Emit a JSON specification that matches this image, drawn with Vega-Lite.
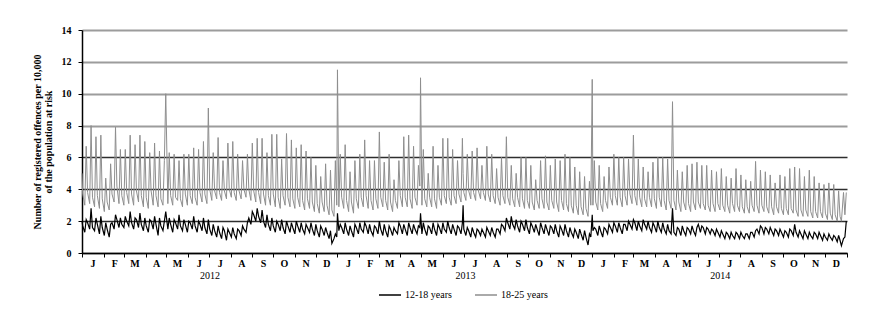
{
"$schema": "https://vega.github.io/schema/vega-lite/v6.json",
"width": 765, "height": 223,
"autosize": "none",
"padding": {"left": 82, "top": 30, "right": 24, "bottom": 68},
"background": "white",
"config": {"view": {"stroke": null}, "font": "Liberation Serif",
  "axisY": {"values": [0, 2, 4, 6, 8, 10, 12, 14], "tickCount": 8, "labelOverlap": false,
            "titleFont": "Liberation Serif", "titleFontWeight": "bold", "titleFontSize": 10, "titleColor": "#000", "titlePadding": 8, "titleLineHeight": 11,
            "labelFont": "Liberation Serif", "labelFontWeight": "bold", "labelFontSize": 10, "labelColor": "#000", "labelPadding": 7,
            "tickSize": 4, "tickColor": "#000", "domainColor": "#000", "domainWidth": 1.5, "grid": true,
            "gridColor": {"condition": {"test": "datum.value <= 6", "value": "#2e2e2e"}, "value": "#9c9c9c"},
            "gridWidth": {"condition": {"test": "datum.value <= 6", "value": 1.3}, "value": 2},
            "zindex": 1}
},
"data": {"format": {"parse": {"d": "date"}}, "values": [
{"d":"2012-01-01","a":2.0,"b":5.0},
{"d":"2012-01-02","a":1.7,"b":3.7},{"d":"2012-01-05","a":1.3,"b":3.0},{"d":"2012-01-07","a":2.1,"b":6.7},
{"d":"2012-01-09","a":1.9,"b":3.8},{"d":"2012-01-12","a":1.5,"b":3.1},{"d":"2012-01-14","a":2.8,"b":8.0},
{"d":"2012-01-16","a":1.6,"b":3.5},{"d":"2012-01-19","a":1.4,"b":2.9},{"d":"2012-01-21","a":2.2,"b":7.3},
{"d":"2012-01-23","a":1.8,"b":3.6},{"d":"2012-01-26","a":1.2,"b":2.8},{"d":"2012-01-28","a":2.3,"b":7.4},
{"d":"2012-01-30","a":1.6,"b":3.4},{"d":"2012-02-02","a":1.1,"b":2.6},{"d":"2012-02-04","a":1.9,"b":4.7},
{"d":"2012-02-06","a":1.5,"b":3.2},{"d":"2012-02-09","a":1.0,"b":2.7},{"d":"2012-02-11","a":1.8,"b":5.6},
{"d":"2012-02-13","a":1.9,"b":3.7},{"d":"2012-02-16","a":1.5,"b":3.2},{"d":"2012-02-18","a":2.4,"b":7.9},
{"d":"2012-02-20","a":2.1,"b":4.2},{"d":"2012-02-23","a":1.6,"b":3.1},{"d":"2012-02-25","a":2.2,"b":6.5},
{"d":"2012-02-27","a":1.8,"b":3.6},{"d":"2012-03-01","a":1.6,"b":3.0},{"d":"2012-03-03","a":2.3,"b":6.5},
{"d":"2012-03-05","a":2.0,"b":3.8},{"d":"2012-03-08","a":1.7,"b":3.1},{"d":"2012-03-10","a":2.6,"b":7.4},
{"d":"2012-03-12","a":1.9,"b":3.7},{"d":"2012-03-15","a":1.5,"b":3.0},{"d":"2012-03-17","a":2.2,"b":6.8},
{"d":"2012-03-19","a":2.1,"b":3.9},{"d":"2012-03-22","a":1.6,"b":3.2},{"d":"2012-03-24","a":2.5,"b":7.4},
{"d":"2012-03-26","a":1.8,"b":3.6},{"d":"2012-03-29","a":1.4,"b":2.9},{"d":"2012-03-31","a":2.2,"b":7.0},
{"d":"2012-04-02","a":1.7,"b":3.5},{"d":"2012-04-05","a":1.3,"b":2.8},{"d":"2012-04-07","a":2.1,"b":6.3},
{"d":"2012-04-09","a":2.0,"b":3.9},{"d":"2012-04-12","a":1.5,"b":3.0},{"d":"2012-04-14","a":2.3,"b":6.9},
{"d":"2012-04-16","a":1.8,"b":3.6},{"d":"2012-04-19","a":1.1,"b":2.9},{"d":"2012-04-21","a":2.2,"b":6.4},
{"d":"2012-04-23","a":1.7,"b":3.4},{"d":"2012-04-26","a":1.4,"b":3.0},{"d":"2012-04-28","a":2.0,"b":5.8},
{"d":"2012-04-30","a":2.6,"b":10.0},{"d":"2012-05-03","a":1.5,"b":3.1},{"d":"2012-05-05","a":2.2,"b":6.3},
{"d":"2012-05-07","a":1.8,"b":3.6},{"d":"2012-05-10","a":1.3,"b":3.0},{"d":"2012-05-12","a":2.1,"b":6.2},
{"d":"2012-05-14","a":1.9,"b":3.5},{"d":"2012-05-17","a":1.5,"b":3.3},{"d":"2012-05-19","a":2.4,"b":5.8},
{"d":"2012-05-21","a":1.7,"b":3.4},{"d":"2012-05-24","a":1.4,"b":2.9},{"d":"2012-05-26","a":2.1,"b":6.2},
{"d":"2012-05-28","a":1.8,"b":3.7},{"d":"2012-05-31","a":1.3,"b":3.0},{"d":"2012-06-02","a":2.0,"b":6.2},
{"d":"2012-06-04","a":1.9,"b":3.6},{"d":"2012-06-07","a":1.5,"b":3.1},{"d":"2012-06-09","a":2.3,"b":6.6},
{"d":"2012-06-11","a":1.7,"b":3.5},{"d":"2012-06-14","a":1.3,"b":3.0},{"d":"2012-06-16","a":2.0,"b":6.5},
{"d":"2012-06-18","a":1.8,"b":3.8},{"d":"2012-06-21","a":1.4,"b":3.2},{"d":"2012-06-23","a":2.2,"b":7.0},
{"d":"2012-06-25","a":1.6,"b":3.7},{"d":"2012-06-28","a":1.2,"b":3.1},{"d":"2012-06-30","a":2.1,"b":9.1},
{"d":"2012-07-02","a":1.5,"b":4.0},{"d":"2012-07-05","a":1.1,"b":3.3},{"d":"2012-07-07","a":1.8,"b":6.3},
{"d":"2012-07-09","a":1.4,"b":3.9},{"d":"2012-07-12","a":1.0,"b":3.4},{"d":"2012-07-14","a":1.7,"b":7.25},
{"d":"2012-07-16","a":1.3,"b":3.8},{"d":"2012-07-19","a":0.9,"b":3.3},{"d":"2012-07-21","a":1.6,"b":5.8},
{"d":"2012-07-23","a":1.4,"b":3.9},{"d":"2012-07-26","a":0.8,"b":3.4},{"d":"2012-07-28","a":1.5,"b":6.9},
{"d":"2012-07-30","a":1.3,"b":4.0},{"d":"2012-08-02","a":1.0,"b":3.5},{"d":"2012-08-04","a":1.6,"b":7.0},
{"d":"2012-08-06","a":1.2,"b":3.8},{"d":"2012-08-09","a":0.9,"b":3.3},{"d":"2012-08-11","a":1.5,"b":6.2},
{"d":"2012-08-13","a":1.4,"b":3.9},{"d":"2012-08-16","a":1.1,"b":3.4},{"d":"2012-08-18","a":1.7,"b":5.8},
{"d":"2012-08-20","a":1.5,"b":4.0},{"d":"2012-08-23","a":1.3,"b":3.5},{"d":"2012-08-25","a":1.9,"b":6.2},
{"d":"2012-08-27","a":2.2,"b":4.0},{"d":"2012-08-30","a":1.8,"b":3.3},{"d":"2012-09-01","a":2.6,"b":6.9},
{"d":"2012-09-03","a":2.4,"b":3.9},{"d":"2012-09-06","a":2.0,"b":3.2},{"d":"2012-09-08","a":2.8,"b":7.2},
{"d":"2012-09-10","a":2.3,"b":3.8},{"d":"2012-09-13","a":1.9,"b":3.1},{"d":"2012-09-15","a":2.7,"b":7.2},
{"d":"2012-09-17","a":2.0,"b":3.7},{"d":"2012-09-20","a":1.6,"b":3.0},{"d":"2012-09-22","a":2.4,"b":6.3},
{"d":"2012-09-24","a":1.8,"b":3.6},{"d":"2012-09-27","a":1.4,"b":3.0},{"d":"2012-09-29","a":2.2,"b":7.45},
{"d":"2012-10-01","a":1.7,"b":3.7},{"d":"2012-10-04","a":1.3,"b":2.9},{"d":"2012-10-06","a":2.0,"b":7.45},
{"d":"2012-10-08","a":1.8,"b":3.5},{"d":"2012-10-11","a":1.4,"b":2.8},{"d":"2012-10-13","a":2.1,"b":5.9},
{"d":"2012-10-15","a":1.6,"b":3.6},{"d":"2012-10-18","a":1.2,"b":3.0},{"d":"2012-10-20","a":2.0,"b":7.5},
{"d":"2012-10-22","a":1.7,"b":3.5},{"d":"2012-10-25","a":1.3,"b":2.9},{"d":"2012-10-27","a":1.9,"b":7.1},
{"d":"2012-10-29","a":1.6,"b":3.4},{"d":"2012-11-01","a":1.2,"b":2.8},{"d":"2012-11-03","a":2.0,"b":6.6},
{"d":"2012-11-05","a":1.7,"b":3.5},{"d":"2012-11-08","a":1.3,"b":2.9},{"d":"2012-11-10","a":1.9,"b":6.8},
{"d":"2012-11-12","a":1.5,"b":3.3},{"d":"2012-11-15","a":1.2,"b":2.7},{"d":"2012-11-17","a":1.8,"b":6.4},
{"d":"2012-11-19","a":1.6,"b":3.4},{"d":"2012-11-22","a":1.3,"b":2.8},{"d":"2012-11-24","a":1.9,"b":6.0},
{"d":"2012-11-26","a":1.5,"b":3.2},{"d":"2012-11-29","a":1.1,"b":2.6},{"d":"2012-12-01","a":1.8,"b":5.5},
{"d":"2012-12-03","a":1.4,"b":3.1},{"d":"2012-12-06","a":1.0,"b":2.5},{"d":"2012-12-08","a":1.7,"b":4.8},
{"d":"2012-12-10","a":1.5,"b":3.2},{"d":"2012-12-13","a":1.1,"b":2.6},{"d":"2012-12-15","a":1.6,"b":5.6},
{"d":"2012-12-17","a":1.3,"b":3.0},{"d":"2012-12-20","a":0.9,"b":2.4},{"d":"2012-12-22","a":1.4,"b":5.2},
{"d":"2012-12-24","a":0.6,"b":2.7},{"d":"2012-12-27","a":0.9,"b":2.3},{"d":"2012-12-29","a":1.2,"b":5.8},
{"d":"2012-12-31","a":1.0,"b":3.0},{"d":"2013-01-01","a":2.5,"b":11.5},{"d":"2013-01-03","a":1.4,"b":2.9},{"d":"2013-01-05","a":1.8,"b":6.2},
{"d":"2013-01-07","a":1.6,"b":3.5},{"d":"2013-01-10","a":1.2,"b":2.8},{"d":"2013-01-12","a":1.9,"b":6.8},
{"d":"2013-01-14","a":1.5,"b":3.3},{"d":"2013-01-17","a":1.1,"b":2.6},{"d":"2013-01-19","a":1.7,"b":5.1},
{"d":"2013-01-21","a":1.4,"b":3.2},{"d":"2013-01-24","a":1.0,"b":2.5},{"d":"2013-01-26","a":1.8,"b":5.8},
{"d":"2013-01-28","a":1.6,"b":3.4},{"d":"2013-01-31","a":1.2,"b":2.8},{"d":"2013-02-02","a":1.9,"b":6.2},
{"d":"2013-02-04","a":1.5,"b":3.5},{"d":"2013-02-07","a":1.3,"b":2.9},{"d":"2013-02-09","a":1.9,"b":7.1},
{"d":"2013-02-11","a":1.7,"b":3.6},{"d":"2013-02-14","a":1.2,"b":2.8},{"d":"2013-02-16","a":1.8,"b":5.8},
{"d":"2013-02-18","a":1.4,"b":3.3},{"d":"2013-02-21","a":1.1,"b":2.7},{"d":"2013-02-23","a":1.7,"b":5.8},
{"d":"2013-02-25","a":1.6,"b":3.4},{"d":"2013-02-28","a":1.2,"b":2.8},{"d":"2013-03-02","a":2.0,"b":7.6},
{"d":"2013-03-04","a":1.5,"b":3.5},{"d":"2013-03-07","a":1.1,"b":2.9},{"d":"2013-03-09","a":1.8,"b":5.7},
{"d":"2013-03-11","a":1.4,"b":3.3},{"d":"2013-03-14","a":1.0,"b":2.7},{"d":"2013-03-16","a":1.7,"b":6.2},
{"d":"2013-03-18","a":1.5,"b":3.2},{"d":"2013-03-21","a":1.1,"b":2.6},{"d":"2013-03-23","a":1.6,"b":4.6},
{"d":"2013-03-25","a":1.4,"b":3.3},{"d":"2013-03-28","a":1.2,"b":2.8},{"d":"2013-03-30","a":1.9,"b":5.8},
{"d":"2013-04-01","a":1.7,"b":3.6},{"d":"2013-04-04","a":1.2,"b":2.9},{"d":"2013-04-06","a":1.8,"b":7.3},
{"d":"2013-04-08","a":1.5,"b":3.5},{"d":"2013-04-11","a":1.1,"b":2.9},{"d":"2013-04-13","a":1.9,"b":7.4},
{"d":"2013-04-15","a":1.6,"b":3.4},{"d":"2013-04-18","a":1.2,"b":2.8},{"d":"2013-04-20","a":1.8,"b":6.7},
{"d":"2013-04-22","a":1.5,"b":3.5},{"d":"2013-04-25","a":1.2,"b":3.0},{"d":"2013-04-27","a":1.7,"b":5.5},
{"d":"2013-04-29","a":1.6,"b":4.2},{"d":"2013-04-30","a":2.5,"b":11.0},{"d":"2013-05-02","a":1.2,"b":3.0},{"d":"2013-05-04","a":1.9,"b":6.5},
{"d":"2013-05-06","a":1.5,"b":3.4},{"d":"2013-05-09","a":1.1,"b":2.9},{"d":"2013-05-11","a":1.7,"b":5.0},
{"d":"2013-05-13","a":1.6,"b":3.5},{"d":"2013-05-16","a":1.2,"b":2.9},{"d":"2013-05-18","a":1.9,"b":6.7},
{"d":"2013-05-20","a":1.5,"b":3.4},{"d":"2013-05-23","a":1.1,"b":2.8},{"d":"2013-05-25","a":1.8,"b":5.5},
{"d":"2013-05-27","a":1.6,"b":3.5},{"d":"2013-05-30","a":1.2,"b":3.0},{"d":"2013-06-01","a":1.9,"b":7.2},
{"d":"2013-06-03","a":1.5,"b":3.6},{"d":"2013-06-06","a":1.3,"b":3.1},{"d":"2013-06-08","a":2.0,"b":7.2},
{"d":"2013-06-10","a":1.6,"b":3.5},{"d":"2013-06-13","a":1.2,"b":3.0},{"d":"2013-06-15","a":1.8,"b":6.5},
{"d":"2013-06-17","a":1.5,"b":3.6},{"d":"2013-06-20","a":1.1,"b":3.1},{"d":"2013-06-22","a":1.7,"b":5.8},
{"d":"2013-06-24","a":1.6,"b":3.7},{"d":"2013-06-27","a":1.2,"b":3.2},{"d":"2013-06-29","a":1.9,"b":7.2},{"d":"2013-06-30","a":3.0,"b":5.0},
{"d":"2013-07-01","a":1.5,"b":3.8},{"d":"2013-07-04","a":1.1,"b":3.3},{"d":"2013-07-06","a":1.6,"b":6.2},
{"d":"2013-07-08","a":1.4,"b":3.9},{"d":"2013-07-11","a":1.0,"b":3.4},{"d":"2013-07-13","a":1.6,"b":6.4},
{"d":"2013-07-15","a":1.3,"b":3.8},{"d":"2013-07-18","a":1.0,"b":3.3},{"d":"2013-07-20","a":1.5,"b":6.6},
{"d":"2013-07-22","a":1.4,"b":3.9},{"d":"2013-07-25","a":1.1,"b":3.4},{"d":"2013-07-27","a":1.5,"b":5.5},
{"d":"2013-07-29","a":1.3,"b":3.8},{"d":"2013-08-01","a":1.0,"b":3.3},{"d":"2013-08-03","a":1.6,"b":6.7},
{"d":"2013-08-05","a":1.4,"b":3.7},{"d":"2013-08-08","a":1.1,"b":3.2},{"d":"2013-08-10","a":1.6,"b":6.2},
{"d":"2013-08-12","a":1.3,"b":3.6},{"d":"2013-08-15","a":1.0,"b":3.1},{"d":"2013-08-17","a":1.5,"b":5.3},
{"d":"2013-08-19","a":1.5,"b":3.5},{"d":"2013-08-22","a":1.2,"b":3.0},{"d":"2013-08-24","a":1.8,"b":6.0},
{"d":"2013-08-26","a":1.7,"b":3.6},{"d":"2013-08-29","a":1.4,"b":3.1},{"d":"2013-08-31","a":2.2,"b":7.3},
{"d":"2013-09-02","a":1.9,"b":3.5},{"d":"2013-09-05","a":1.5,"b":3.0},{"d":"2013-09-07","a":2.3,"b":5.5},
{"d":"2013-09-09","a":1.8,"b":3.4},{"d":"2013-09-12","a":1.5,"b":2.9},{"d":"2013-09-14","a":2.1,"b":5.0},
{"d":"2013-09-16","a":1.7,"b":3.5},{"d":"2013-09-19","a":1.3,"b":2.9},{"d":"2013-09-21","a":2.0,"b":6.0},
{"d":"2013-09-23","a":1.8,"b":3.4},{"d":"2013-09-26","a":1.4,"b":2.8},{"d":"2013-09-28","a":2.1,"b":6.0},
{"d":"2013-09-30","a":1.6,"b":3.3},{"d":"2013-10-03","a":1.2,"b":2.8},{"d":"2013-10-05","a":1.9,"b":5.5},
{"d":"2013-10-07","a":1.7,"b":3.2},{"d":"2013-10-10","a":1.3,"b":2.7},{"d":"2013-10-12","a":1.8,"b":4.6},
{"d":"2013-10-14","a":1.5,"b":3.3},{"d":"2013-10-17","a":1.1,"b":2.8},{"d":"2013-10-19","a":1.9,"b":5.8},
{"d":"2013-10-21","a":1.6,"b":3.4},{"d":"2013-10-24","a":1.2,"b":2.8},{"d":"2013-10-26","a":1.8,"b":6.1},
{"d":"2013-10-28","a":1.5,"b":3.2},{"d":"2013-10-31","a":1.1,"b":2.7},{"d":"2013-11-02","a":1.7,"b":5.5},
{"d":"2013-11-04","a":1.6,"b":3.3},{"d":"2013-11-07","a":1.2,"b":2.8},{"d":"2013-11-09","a":1.8,"b":5.9},
{"d":"2013-11-11","a":1.4,"b":3.2},{"d":"2013-11-14","a":1.0,"b":2.6},{"d":"2013-11-16","a":1.7,"b":5.8},
{"d":"2013-11-18","a":1.5,"b":3.3},{"d":"2013-11-21","a":1.1,"b":2.7},{"d":"2013-11-23","a":1.8,"b":6.2},
{"d":"2013-11-25","a":1.4,"b":3.1},{"d":"2013-11-28","a":1.0,"b":2.6},{"d":"2013-11-30","a":1.6,"b":6.0},
{"d":"2013-12-02","a":1.3,"b":3.0},{"d":"2013-12-05","a":1.0,"b":2.5},{"d":"2013-12-07","a":1.5,"b":5.4},
{"d":"2013-12-09","a":1.3,"b":3.0},{"d":"2013-12-12","a":0.9,"b":2.4},{"d":"2013-12-14","a":1.5,"b":5.1},
{"d":"2013-12-16","a":1.2,"b":2.9},{"d":"2013-12-19","a":0.8,"b":2.4},{"d":"2013-12-21","a":1.4,"b":4.8},
{"d":"2013-12-23","a":1.0,"b":2.8},{"d":"2013-12-26","a":0.5,"b":2.3},{"d":"2013-12-28","a":1.2,"b":4.5},
{"d":"2013-12-30","a":1.0,"b":3.0},{"d":"2014-01-01","a":2.4,"b":10.9},{"d":"2014-01-02","a":1.4,"b":3.0},{"d":"2014-01-04","a":1.6,"b":5.8},
{"d":"2014-01-06","a":1.5,"b":3.2},{"d":"2014-01-09","a":1.1,"b":2.7},{"d":"2014-01-11","a":1.7,"b":5.5},
{"d":"2014-01-13","a":1.4,"b":3.1},{"d":"2014-01-16","a":1.0,"b":2.6},{"d":"2014-01-18","a":1.6,"b":4.8},
{"d":"2014-01-20","a":1.5,"b":3.3},{"d":"2014-01-23","a":1.2,"b":2.8},{"d":"2014-01-25","a":1.8,"b":5.4},
{"d":"2014-01-27","a":1.6,"b":3.5},{"d":"2014-01-30","a":1.3,"b":3.0},{"d":"2014-02-01","a":1.9,"b":6.2},
{"d":"2014-02-03","a":1.7,"b":3.6},{"d":"2014-02-06","a":1.3,"b":3.0},{"d":"2014-02-08","a":1.9,"b":6.0},
{"d":"2014-02-10","a":1.6,"b":3.5},{"d":"2014-02-13","a":1.2,"b":2.9},{"d":"2014-02-15","a":1.8,"b":6.0},
{"d":"2014-02-17","a":1.8,"b":3.6},{"d":"2014-02-20","a":1.4,"b":3.0},{"d":"2014-02-22","a":2.0,"b":5.9},
{"d":"2014-02-24","a":1.8,"b":3.7},{"d":"2014-02-27","a":1.5,"b":3.1},{"d":"2014-03-01","a":2.1,"b":7.4},
{"d":"2014-03-03","a":1.9,"b":3.6},{"d":"2014-03-06","a":1.4,"b":3.0},{"d":"2014-03-08","a":2.0,"b":5.9},
{"d":"2014-03-10","a":1.7,"b":3.5},{"d":"2014-03-13","a":1.4,"b":2.9},{"d":"2014-03-15","a":2.1,"b":5.4},
{"d":"2014-03-17","a":1.8,"b":3.4},{"d":"2014-03-20","a":1.5,"b":2.9},{"d":"2014-03-22","a":2.0,"b":5.1},
{"d":"2014-03-24","a":1.6,"b":3.5},{"d":"2014-03-27","a":1.3,"b":2.9},{"d":"2014-03-29","a":1.9,"b":5.7},
{"d":"2014-03-31","a":1.7,"b":3.4},{"d":"2014-04-03","a":1.3,"b":2.8},{"d":"2014-04-05","a":2.0,"b":6.0},
{"d":"2014-04-07","a":1.6,"b":3.5},{"d":"2014-04-10","a":1.3,"b":2.9},{"d":"2014-04-12","a":1.9,"b":6.0},
{"d":"2014-04-14","a":1.5,"b":3.3},{"d":"2014-04-17","a":1.2,"b":2.7},{"d":"2014-04-19","a":1.8,"b":5.9},
{"d":"2014-04-21","a":1.4,"b":3.3},{"d":"2014-04-24","a":1.2,"b":2.8},{"d":"2014-04-26","a":2.8,"b":9.5},
{"d":"2014-04-28","a":1.3,"b":3.3},{"d":"2014-05-01","a":1.1,"b":2.7},{"d":"2014-05-03","a":1.6,"b":5.2},
{"d":"2014-05-05","a":1.5,"b":3.2},{"d":"2014-05-08","a":1.1,"b":2.6},{"d":"2014-05-10","a":1.7,"b":5.1},
{"d":"2014-05-12","a":1.4,"b":3.2},{"d":"2014-05-15","a":1.1,"b":2.7},{"d":"2014-05-17","a":1.6,"b":5.5},
{"d":"2014-05-19","a":1.5,"b":3.1},{"d":"2014-05-22","a":1.2,"b":2.6},{"d":"2014-05-24","a":1.7,"b":5.6},
{"d":"2014-05-26","a":1.4,"b":3.2},{"d":"2014-05-29","a":1.1,"b":2.7},{"d":"2014-05-31","a":1.6,"b":5.7},
{"d":"2014-06-02","a":1.8,"b":3.2},{"d":"2014-06-05","a":1.3,"b":2.8},{"d":"2014-06-07","a":1.7,"b":5.5},
{"d":"2014-06-09","a":1.6,"b":3.1},{"d":"2014-06-12","a":1.2,"b":2.7},{"d":"2014-06-14","a":1.6,"b":5.5},
{"d":"2014-06-16","a":1.5,"b":3.0},{"d":"2014-06-19","a":1.2,"b":2.6},{"d":"2014-06-21","a":1.5,"b":5.2},
{"d":"2014-06-23","a":1.4,"b":3.1},{"d":"2014-06-26","a":1.1,"b":2.6},{"d":"2014-06-28","a":1.5,"b":5.1},
{"d":"2014-06-30","a":1.3,"b":3.1},{"d":"2014-07-03","a":1.0,"b":2.7},{"d":"2014-07-05","a":1.4,"b":5.3},
{"d":"2014-07-07","a":1.2,"b":3.0},{"d":"2014-07-10","a":0.9,"b":2.6},{"d":"2014-07-12","a":1.3,"b":4.8},
{"d":"2014-07-14","a":1.2,"b":3.0},{"d":"2014-07-17","a":0.9,"b":2.5},{"d":"2014-07-19","a":1.3,"b":4.7},
{"d":"2014-07-21","a":1.1,"b":3.1},{"d":"2014-07-24","a":0.9,"b":2.6},{"d":"2014-07-26","a":1.3,"b":5.3},
{"d":"2014-07-28","a":1.2,"b":3.0},{"d":"2014-07-31","a":0.9,"b":2.6},{"d":"2014-08-02","a":1.3,"b":4.9},
{"d":"2014-08-04","a":1.1,"b":2.9},{"d":"2014-08-07","a":0.9,"b":2.5},{"d":"2014-08-09","a":1.2,"b":4.6},
{"d":"2014-08-11","a":1.2,"b":2.9},{"d":"2014-08-14","a":0.9,"b":2.5},{"d":"2014-08-16","a":1.3,"b":4.5},
{"d":"2014-08-18","a":1.3,"b":3.0},{"d":"2014-08-21","a":1.0,"b":2.6},{"d":"2014-08-23","a":1.4,"b":5.75},
{"d":"2014-08-25","a":1.5,"b":3.0},{"d":"2014-08-28","a":1.2,"b":2.5},{"d":"2014-08-30","a":1.7,"b":5.2},
{"d":"2014-09-01","a":1.6,"b":3.0},{"d":"2014-09-04","a":1.2,"b":2.6},{"d":"2014-09-06","a":1.6,"b":5.1},
{"d":"2014-09-08","a":1.5,"b":2.9},{"d":"2014-09-11","a":1.2,"b":2.5},{"d":"2014-09-13","a":1.6,"b":4.9},
{"d":"2014-09-15","a":1.4,"b":2.9},{"d":"2014-09-18","a":1.1,"b":2.4},{"d":"2014-09-20","a":1.5,"b":4.4},
{"d":"2014-09-22","a":1.4,"b":2.9},{"d":"2014-09-25","a":1.1,"b":2.5},{"d":"2014-09-27","a":1.5,"b":4.9},
{"d":"2014-09-29","a":1.3,"b":2.8},{"d":"2014-10-02","a":1.0,"b":2.4},{"d":"2014-10-04","a":1.4,"b":4.8},
{"d":"2014-10-06","a":1.3,"b":2.8},{"d":"2014-10-09","a":1.0,"b":2.4},{"d":"2014-10-11","a":1.5,"b":5.3},
{"d":"2014-10-13","a":1.4,"b":2.8},{"d":"2014-10-16","a":1.1,"b":2.5},{"d":"2014-10-18","a":1.8,"b":5.4},
{"d":"2014-10-20","a":1.3,"b":2.7},{"d":"2014-10-23","a":1.0,"b":2.3},{"d":"2014-10-25","a":1.4,"b":5.3},
{"d":"2014-10-27","a":1.2,"b":2.7},{"d":"2014-10-30","a":0.9,"b":2.3},{"d":"2014-11-01","a":1.4,"b":4.8},
{"d":"2014-11-03","a":1.2,"b":2.7},{"d":"2014-11-06","a":0.9,"b":2.3},{"d":"2014-11-08","a":1.3,"b":5.2},
{"d":"2014-11-10","a":1.1,"b":2.6},{"d":"2014-11-13","a":0.9,"b":2.2},{"d":"2014-11-15","a":1.3,"b":4.8},
{"d":"2014-11-17","a":1.2,"b":2.6},{"d":"2014-11-20","a":0.9,"b":2.2},{"d":"2014-11-22","a":1.3,"b":4.4},
{"d":"2014-11-24","a":1.1,"b":2.6},{"d":"2014-11-27","a":0.8,"b":2.2},{"d":"2014-11-29","a":1.2,"b":4.3},
{"d":"2014-12-01","a":1.0,"b":2.5},{"d":"2014-12-04","a":0.8,"b":2.1},{"d":"2014-12-06","a":1.2,"b":4.4},
{"d":"2014-12-08","a":1.0,"b":2.5},{"d":"2014-12-11","a":0.8,"b":2.1},{"d":"2014-12-13","a":1.1,"b":4.3},
{"d":"2014-12-15","a":1.0,"b":2.4},{"d":"2014-12-18","a":0.7,"b":2.0},{"d":"2014-12-20","a":1.1,"b":3.9},
{"d":"2014-12-22","a":0.8,"b":2.3},{"d":"2014-12-24","a":0.45,"b":2.0},{"d":"2014-12-27","a":0.9,"b":3.8},
{"d":"2014-12-29","a":1.0,"b":2.4},{"d":"2014-12-31","a":2.0,"b":3.8}
]},
"layer": [
{"mark": {"type": "line", "strokeWidth": 1, "interpolate": "linear"},
 "encoding": {
  "x": {"field": "d", "type": "temporal",
        "scale": {"type": "utc", "domain": [{"year": 2012, "month": 1, "date": 1, "utc": true}, {"year": 2015, "month": 1, "date": 1, "utc": true}]},
        "axis": {"title": null, "grid": false, "tickCount": {"interval": "month", "step": 1},
                 "labelExpr": "utcyear(datum.value) > 2014 ? '' : slice(utcFormat(datum.value, '%B'), 0, 1)",
                 "labelOffset": 10.6, "labelFlush": false, "labelOverlap": false, "labelBound": false,
                 "labelFont": "Liberation Serif", "labelFontWeight": "bold", "labelFontSize": 10, "labelColor": "#000",
                 "labelPadding": 1, "tickSize": 4, "tickColor": "#000", "domainColor": "#000", "domainWidth": 1.5, "zindex": 1}},
  "y": {"field": "b", "type": "quantitative", "scale": {"domain": [0, 14], "nice": false},
        "title": ["Number of registered offences per 10,000", "of the population at risk"]},
  "color": {"datum": "18-25 years", "type": "nominal",
            "scale": {"domain": ["12-18 years", "18-25 years"], "range": ["#000000", "#8e8e8e"]},
            "legend": {"orient": "none", "legendX": 296, "legendY": 253, "direction": "horizontal", "title": null,
                       "labelFont": "Liberation Serif", "labelFontSize": 10, "labelColor": "#000",
                       "symbolType": "stroke", "symbolSize": 484, "symbolStrokeWidth": 1.5,
                       "columnPadding": 20, "labelOffset": 3, "padding": 0}}
 }},
{"mark": {"type": "line", "strokeWidth": 1.2, "interpolate": "linear"},
 "encoding": {
  "x": {"field": "d", "type": "temporal", "axis": null,
        "scale": {"type": "utc", "domain": [{"year": 2012, "month": 1, "date": 1, "utc": true}, {"year": 2015, "month": 1, "date": 1, "utc": true}]}},
  "y": {"field": "a", "type": "quantitative", "scale": {"domain": [0, 14], "nice": false},
        "title": ["Number of registered offences per 10,000", "of the population at risk"]},
  "color": {"datum": "12-18 years", "type": "nominal"}
 }},
{"mark": {"type": "tick", "opacity": 0},
 "encoding": {
  "x": {"field": "d", "type": "temporal",
        "scale": {"type": "utc", "domain": [{"year": 2012, "month": 1, "date": 1, "utc": true}, {"year": 2015, "month": 1, "date": 1, "utc": true}]},
        "axis": {"orient": "bottom", "title": null, "grid": false, "domain": false, "ticks": false, "tickSize": 0,
                 "tickCount": {"interval": "year", "step": 1},
                 "labelExpr": "utcyear(datum.value) > 2014 ? '' : utcFormat(datum.value, '%Y')",
                 "labelOffset": 127.5, "labelFlush": false, "labelOverlap": false, "labelBound": false,
                 "labelFont": "Liberation Serif", "labelFontSize": 10, "labelColor": "#000", "labelPadding": 17}}
 }}
],
"resolve": {"axis": {"x": "independent"}}
}
